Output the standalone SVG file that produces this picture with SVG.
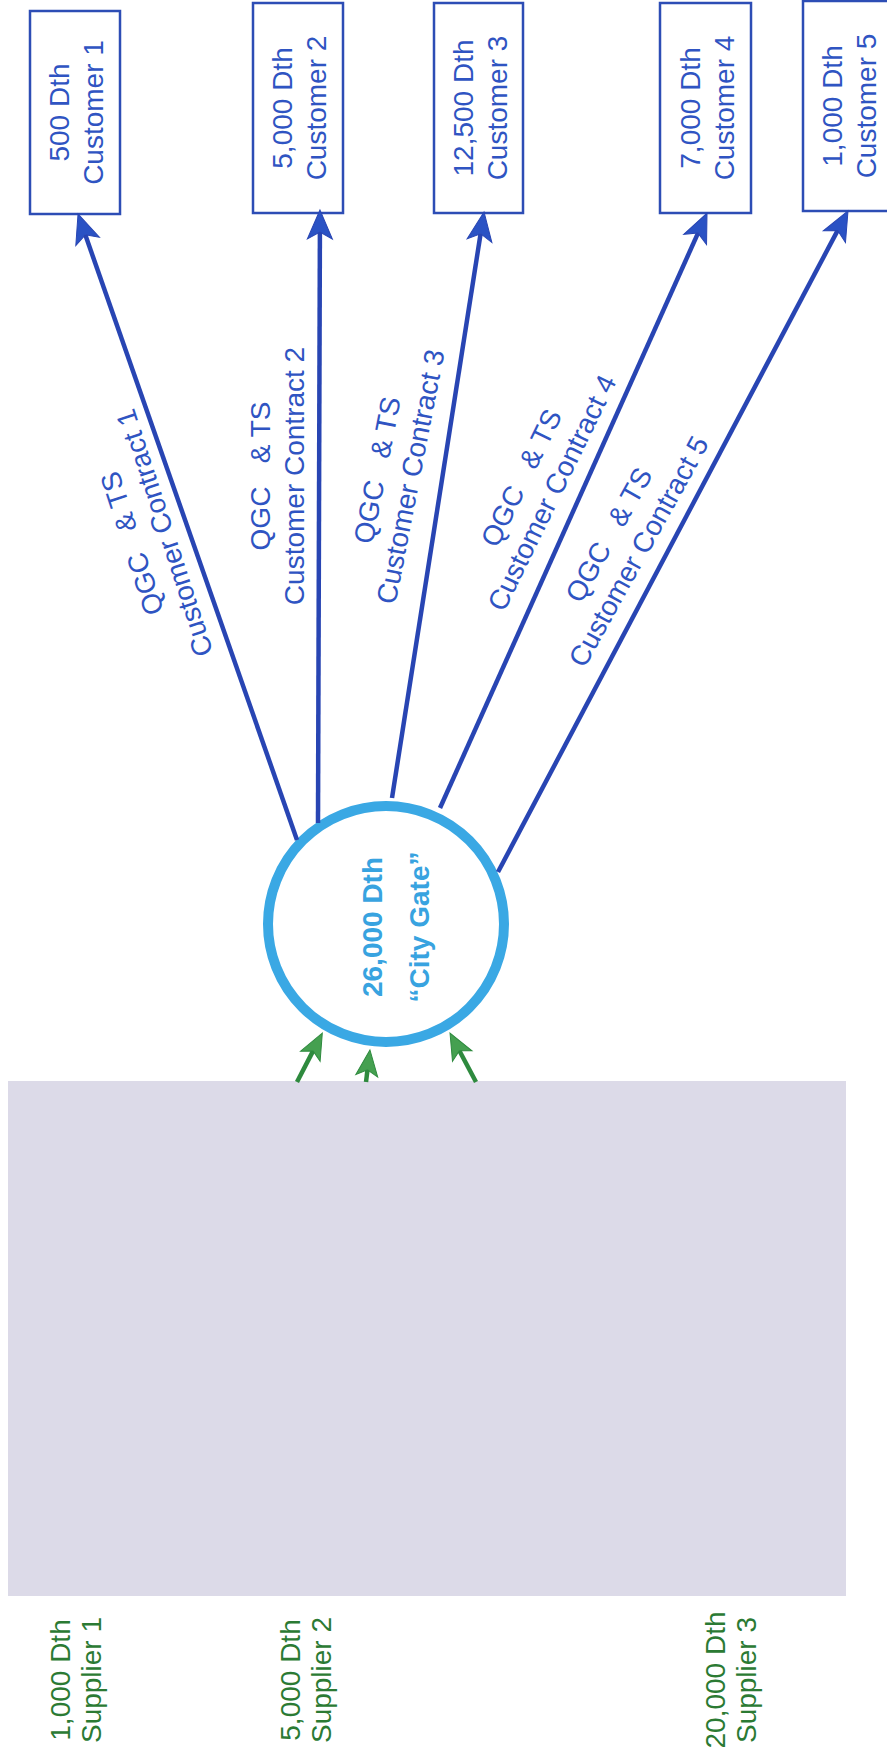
<svg xmlns="http://www.w3.org/2000/svg" width="887" height="1756" viewBox="0 0 887 1756">
<style>
text{font-family:"Liberation Sans",Arial,sans-serif;font-size:28px;}
.cust rect{fill:#fff;stroke:#2D4DB5;stroke-width:2.5;}
.btxt{fill:#2F54C2;text-anchor:middle;}
.gtxt{fill:#2B7A33;text-anchor:middle;}
.ctxt{fill:#38A3E0;font-weight:bold;text-anchor:middle;}
.blue{stroke:#2845B3;stroke-width:4.5;fill:none;marker-end:url(#ab);}
.green{stroke:#2E8A3E;stroke-width:4.5;fill:none;marker-end:url(#ag);}
.pre{white-space:pre;}
</style>
<defs>
<marker id="ab" markerUnits="userSpaceOnUse" orient="auto" refX="0" refY="0" markerWidth="40" markerHeight="40" overflow="visible">
<path d="M22,0 L-7,-12.5 L0,0 L-7,12.5 Z" fill="#2A52C4" stroke="#2845B3" stroke-width="1"/>
</marker>
<marker id="ag" markerUnits="userSpaceOnUse" orient="auto" refX="0" refY="0" markerWidth="40" markerHeight="40" overflow="visible">
<path d="M20,0 L-6,-11 L0,0 L-6,11 Z" fill="#45A050" stroke="#2E8A3E" stroke-width="1"/>
</marker>
</defs>
<rect width="887" height="1756" fill="#fff"/>

<g id="supply-box"><rect x="8" y="1081" width="838" height="515" fill="#DCDAE8"/></g>

<g id="customer1" class="cust"><rect x="30" y="11" width="90" height="203"/>
<g transform="translate(75,112.5) rotate(-90)"><text class="btxt" x="0" y="-6">500 Dth</text><text class="btxt" x="0" y="28">Customer 1</text></g></g>
<g id="customer2" class="cust"><rect x="253" y="3" width="90" height="210"/>
<g transform="translate(298,108) rotate(-90)"><text class="btxt" x="0" y="-6">5,000 Dth</text><text class="btxt" x="0" y="28">Customer 2</text></g></g>
<g id="customer3" class="cust"><rect x="434" y="3" width="89" height="210"/>
<g transform="translate(478.5,108) rotate(-90)"><text class="btxt" x="0" y="-6">12,500 Dth</text><text class="btxt" x="0" y="28">Customer 3</text></g></g>
<g id="customer4" class="cust"><rect x="660" y="3" width="91" height="210"/>
<g transform="translate(705.5,108) rotate(-90)"><text class="btxt" x="0" y="-6">7,000 Dth</text><text class="btxt" x="0" y="28">Customer 4</text></g></g>
<g id="customer5" class="cust"><rect x="803" y="1" width="90" height="210"/>
<g transform="translate(848,106) rotate(-90)"><text class="btxt" x="0" y="-6">1,000 Dth</text><text class="btxt" x="0" y="28">Customer 5</text></g></g>

<g id="citygate"><circle cx="386" cy="924" r="118" fill="#fff" stroke="#3AA8E4" stroke-width="10"/>
<g transform="translate(386,927) rotate(-90)"><text class="ctxt" x="0" y="-4">26,000 Dth</text><text class="ctxt" x="0" y="43">“City Gate”</text></g></g>

<g id="supplier1" transform="translate(0,1680) rotate(-90)"><text class="gtxt" x="0" y="70">1,000 Dth</text><text class="gtxt" x="0" y="101">Supplier 1</text></g>
<g id="supplier2" transform="translate(0,1680) rotate(-90)"><text class="gtxt" x="0" y="300">5,000 Dth</text><text class="gtxt" x="0" y="331">Supplier 2</text></g>
<g id="supplier3" transform="translate(0,1680) rotate(-90)"><text class="gtxt" x="0" y="725">20,000 Dth</text><text class="gtxt" x="0" y="756">Supplier 3</text></g>

<g id="connectors">
<line class="blue" x1="297" y1="840" x2="85.3" y2="234.8"/>
<line class="blue" x1="318" y1="823" x2="319.9" y2="232"/>
<line class="blue" x1="392" y1="798" x2="480.6" y2="233.7"/>
<line class="blue" x1="440" y1="808" x2="698" y2="233.1"/>
<line class="blue" x1="498" y1="872" x2="837.7" y2="230.4"/>
<line class="green" x1="297" y1="1082" x2="313.1" y2="1050.9"/>
<line class="green" x1="366" y1="1082" x2="367.5" y2="1069.8"/>
<line class="green" x1="476" y1="1082" x2="459.4" y2="1050.7"/>
</g>

<g id="labels">
<g transform="translate(173.5,530) rotate(-108)"><text class="btxt pre" xml:space="preserve" x="0" y="-34">QGC   &amp; TS</text><text class="btxt" x="0" y="0">Customer Contract 1</text></g>
<g transform="translate(304,476) rotate(-90)"><text class="btxt pre" xml:space="preserve" x="0" y="-34">QGC   &amp; TS</text><text class="btxt" x="0" y="0">Customer Contract 2</text></g>
<g transform="translate(420,478.5) rotate(-79)"><text class="btxt pre" xml:space="preserve" x="0" y="-34">QGC   &amp; TS</text><text class="btxt" x="0" y="0">Customer Contract 3</text></g>
<g transform="translate(560.5,497) rotate(-64)"><text class="btxt pre" xml:space="preserve" x="0" y="-34">QGC   &amp; TS</text><text class="btxt" x="0" y="0">Customer Contract 4</text></g>
<g transform="translate(647,556) rotate(-61)"><text class="btxt pre" xml:space="preserve" x="0" y="-34">QGC   &amp; TS</text><text class="btxt" x="0" y="0">Customer Contract 5</text></g>
</g>
</svg>
